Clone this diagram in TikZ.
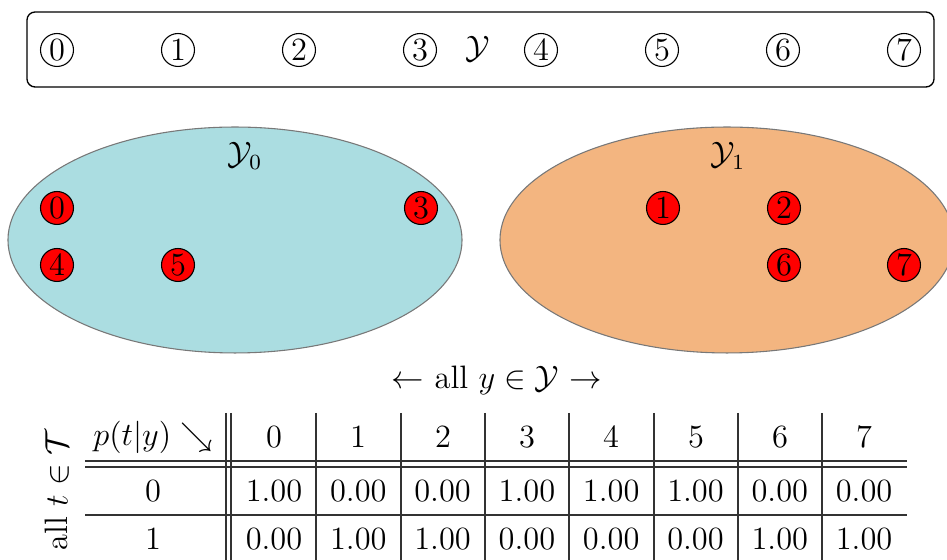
\documentclass[tikz,border=0pt]{standalone}
\usetikzlibrary{shapes.geometric}
\definecolor{cyanfill}{RGB}{171,221,225}
\definecolor{orangefill}{RGB}{243,181,128}
\definecolor{rimgray}{RGB}{120,120,120}
\begin{document}
\begin{tikzpicture}[x=0.37pt,y=-0.37pt,
  topnum/.style={draw, circle, inner sep=0pt, minimum size=12.2pt, font=\large, line width=0.4pt},
  rednum/.style={draw, circle, fill=red, inner sep=0pt, minimum size=12.2pt, font=\large, line width=0.4pt},
  blob/.style={draw=rimgray, ellipse, inner sep=0pt, minimum width=168pt, minimum height=83.6pt, line width=0.4pt},
  tline/.style={line width=0.4pt, draw=black!80},
  cell/.style={inner sep=0pt, anchor=base}
]
\useasboundingbox (0,0) rectangle (947,560);
% top box
\node[draw, rounded corners=3pt, minimum width=335.6pt, minimum height=27.75pt, line width=0.5pt] (ybox) at (480.5,49.5) {};
\foreach \i in {0,...,7} {
  \node[topnum] (t\i) at ({57+121*\i},50) {\i};
}
\node[font=\large] (ylab) at (478,49) {$\mathcal{Y}$};
% ellipses
\node[blob, fill=cyanfill] (y0) at (235,240) {};
\node[blob, fill=orangefill] (y1) at (727,240) {};
\node[font=\large] (y0lab) at (245,156) {$\mathcal{Y}_0$};
\node[font=\large] (y1lab) at (728,156) {$\mathcal{Y}_1$};
\node[rednum] (r0) at (57,208) {0};
\node[rednum] (r3) at (421,208) {3};
\node[rednum] (r4) at (57,265) {4};
\node[rednum] (r5) at (178,265) {5};
\node[rednum] (r1) at (663,208) {1};
\node[rednum] (r2) at (784,208) {2};
\node[rednum] (r6) at (784,265) {6};
\node[rednum] (r7) at (904,265) {7};
% caption
\node[font=\large] (ally) at (497,380) {$\leftarrow$ all $y\in\mathcal{Y}$ $\rightarrow$};
\node[font=\large, rotate=90] (allt) at (57,490) {all $t\in\mathcal{T}$};
% table lines
\foreach \xx in {226,231,316,401,485,569,654,738,822} {
  \draw[tline] (\xx,413) -- (\xx,562);
}
\foreach \yy in {461,467,515} {
  \draw[tline] (85,\yy) -- (907,\yy);
}
% table text
\node[font=\large] (hd) at (153,437) {$p(t|y)\searrow$};
\node[font=\large] (row0) at (153,491) {0};
\node[font=\large] (row1) at (153,539) {1};
\foreach \c [count=\k from 0] in {274,358,443,527,611,696,780,864} {
  \node[font=\large] (h\k) at (\c,437) {\k};
}
\foreach \v [count=\k from 0] in {1.00,0.00,0.00,1.00,1.00,1.00,0.00,0.00} {
  \pgfmathsetmacro{\cx}{274+84.3*\k}
  \node[font=\large] (a\k) at (\cx,491) {\v};
}
\foreach \v [count=\k from 0] in {0.00,1.00,1.00,0.00,0.00,0.00,1.00,1.00} {
  \pgfmathsetmacro{\cx}{274+84.3*\k}
  \node[font=\large] (b\k) at (\cx,539) {\v};
}
\end{tikzpicture}
\end{document}
